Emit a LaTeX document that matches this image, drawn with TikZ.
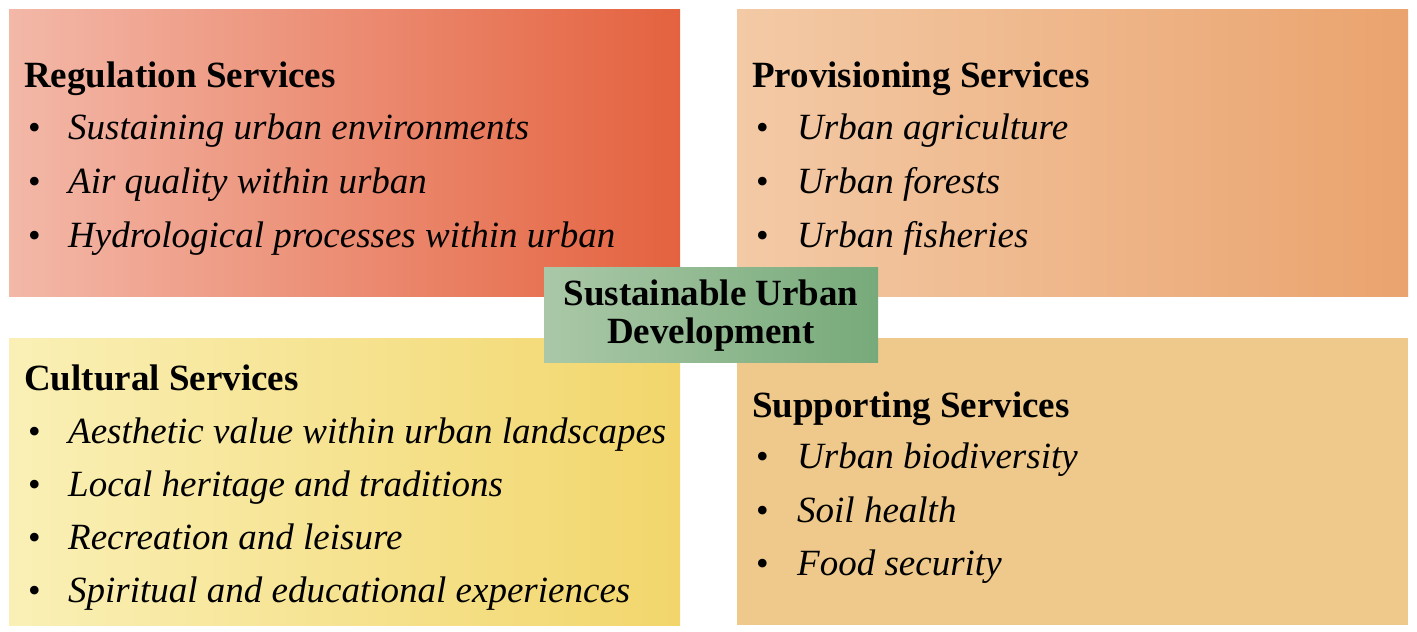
\documentclass[tikz,border=0pt]{standalone}
\usepackage{fontspec}
\setmainfont{Liberation Serif}
\definecolor{rlL}{HTML}{F3B8A8}
\definecolor{rlR}{HTML}{E4623F}
\definecolor{prL}{HTML}{F3CAA6}
\definecolor{prR}{HTML}{EAA36E}
\definecolor{cuL}{HTML}{FAF0B6}
\definecolor{cuR}{HTML}{F2D66C}
\definecolor{suC}{HTML}{EEC98B}
\definecolor{ceL}{HTML}{AAC8A7}
\definecolor{ceR}{HTML}{77AA7A}
\tikzset{
  panel/.style={rectangle, inner sep=0pt, outer sep=0pt, anchor=north west, minimum width=671pt, minimum height=287pt},
  head/.style={anchor=base west, inner sep=0pt, font=\fontsize{37}{40}\selectfont\bfseries},
  item/.style={anchor=base west, inner sep=0pt, font=\fontsize{37}{42}\selectfont\itshape},
  bul/.style={anchor=base west, inner sep=0pt, font=\fontsize{36}{40}\selectfont},
  ctext/.style={anchor=base, inner sep=0pt, font=\fontsize{37}{40}\selectfont\bfseries},
  center/.style={rectangle, inner sep=0pt, outer sep=0pt, anchor=north west, minimum width=334pt, minimum height=95pt, left color=ceL, right color=ceR}
}
\begin{document}
\begin{tikzpicture}[x=1pt,y=-1pt]
\useasboundingbox (0,0) rectangle (1417,632);
% panels
\node[panel, left color=rlL, right color=rlR] (reg) at (9,9) {};
\node[panel, left color=prL, right color=prR] (pro) at (737,9) {};
\node[panel, left color=cuL, right color=cuR] (cul) at (9,338) {};
\node[panel, fill=suC] (sup) at (737,338) {};
% regulation
\node[head] (regh) at (24,87) {Regulation Services};
\node[bul] (regb1) at (28,139) {\textbullet};
\node[item] (regi1) at (68,139) {Sustaining urban environments};
\node[bul] (regb2) at (28,193) {\textbullet};
\node[item] (regi2) at (68,193) {Air quality within urban};
\node[bul] (regb3) at (28,247) {\textbullet};
\node[item] (regi3) at (68,247) {Hydrological processes within urban};
% provisioning
\node[head] (proh) at (752,87) {Provisioning Services};
\node[bul] (prob1) at (756,139) {\textbullet};
\node[item] (proi1) at (797,139) {Urban agriculture};
\node[bul] (prob2) at (756,193) {\textbullet};
\node[item] (proi2) at (797,193) {Urban forests};
\node[bul] (prob3) at (756,247) {\textbullet};
\node[item] (proi3) at (797,247) {Urban fisheries};
% cultural
\node[head] (culh) at (24,390) {Cultural Services};
\node[bul] (culb1) at (28,443) {\textbullet};
\node[item] (culi1) at (68,443) {Aesthetic value within urban landscapes};
\node[bul] (culb2) at (28,496) {\textbullet};
\node[item] (culi2) at (68,496) {Local heritage and traditions};
\node[bul] (culb3) at (28,549) {\textbullet};
\node[item] (culi3) at (68,549) {Recreation and leisure};
\node[bul] (culb4) at (28,602) {\textbullet};
\node[item] (culi4) at (68,602) {Spiritual and educational experiences};
% supporting
\node[head] (suph) at (752,417) {Supporting Services};
\node[bul] (supb1) at (756,468) {\textbullet};
\node[item] (supi1) at (797,468) {Urban biodiversity};
\node[bul] (supb2) at (756,522) {\textbullet};
\node[item] (supi2) at (797,522) {Soil health};
\node[bul] (supb3) at (756,575) {\textbullet};
\node[item] (supi3) at (797,575) {Food security};
% center
\node[center] (sud) at (544,267) {};
\node[ctext] (sudt1) at (sud.center |- 0,305) {Sustainable Urban};
\node[ctext] (sudt2) at (sud.center |- 0,343) {Development};
\end{tikzpicture}
\end{document}
